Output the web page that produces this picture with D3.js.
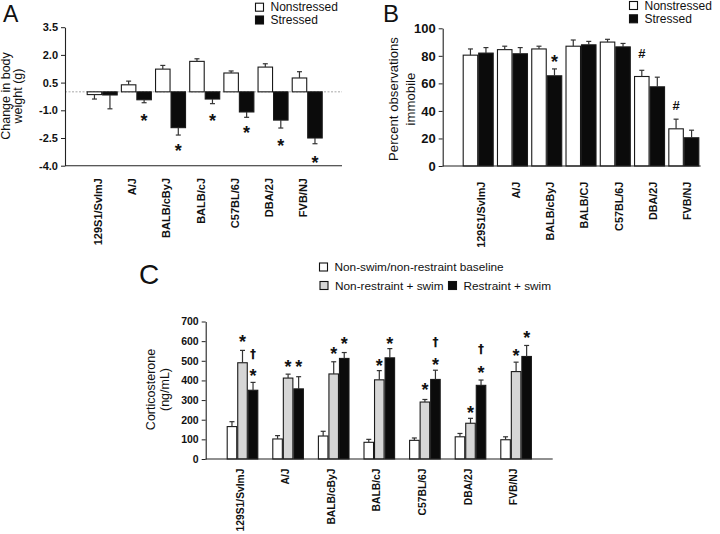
<!DOCTYPE html>
<html><head><meta charset="utf-8">
<script src="https://cdn.jsdelivr.net/npm/d3@7"></script>
<style>
body{margin:0;background:#fff}
svg{display:block}
text{font-family:"Liberation Sans",Arial,Helvetica,sans-serif;fill:#111}
</style>
</head><body>
<svg id="chart" width="720" height="534"></svg>
<script>
// ---------------- DATA ----------------
// Panel A: change in body weight (g)
const categoriesA = ["129S1/SvImJ","A/J","BALB/cByJ","BALB/cJ","C57BL/6J","DBA/2J","FVB/NJ"];
const nonstressedA = [-0.15, 0.38, 1.23, 1.65, 1.02, 1.34, 0.75];
const nonstressedErrA = [0.24, 0.20, 0.20, 0.14, 0.11, 0.18, 0.34];
const stressedA = [-0.17, -0.43, -1.94, -0.39, -1.09, -1.53, -2.50];
const stressedErrA = [0.75, 0.16, 0.40, 0.25, 0.29, 0.43, 0.31];
const yTicksA = [3.5, 2.0, 0.5, -1.0, -2.5, -4.0];
const markersA = [
  {cat:"A/J", s:1, sym:"*", v:-1.31},
  {cat:"BALB/cByJ", s:1, sym:"*", v:-2.92},
  {cat:"BALB/cJ", s:1, sym:"*", v:-1.31},
  {cat:"C57BL/6J", s:1, sym:"*", v:-1.96},
  {cat:"DBA/2J", s:1, sym:"*", v:-2.65},
  {cat:"FVB/NJ", s:1, sym:"*", v:-3.60}
];

// Panel B: percent observations immobile
const categoriesB = ["129S1/SvImJ","A/J","BALB/cByJ","BALB/CJ","C57BL/6J","DBA/2J","FVB/NJ"];
const nonstressedB = [80.5, 84.5, 85, 87, 90, 65, 27];
const nonstressedErrB = [4.5, 2.5, 2, 4.5, 2, 4.5, 7];
const stressedB = [82, 81.5, 65.5, 88, 86.5, 57.5, 20.5];
const stressedErrB = [4, 4.5, 5, 2.5, 2.5, 7, 5.5];
const yTicksB = [0, 20, 40, 60, 80, 100];
const markersB = [
  {cat:"BALB/cByJ", s:1, sym:"*", v:78.8},
  {cat:"DBA/2J", s:0, sym:"#", v:81.5},
  {cat:"FVB/NJ", s:0, sym:"#", v:44.4}
];

// Panel C: corticosterone (ng/mL)
const categoriesC = ["129S1/SvImJ","A/J","BALB/cByJ","BALB/cJ","C57BL/6J","DBA/2J","FVB/NJ"];
const baselineC = [165, 102, 117, 85, 95, 113, 98];
const baselineErrC = [25, 17, 24, 15, 12, 17, 15];
const swimC = [490, 412, 433, 403, 290, 182, 445];
const swimErrC = [63, 20, 62, 47, 13, 25, 48];
const restraintSwimC = [350, 357, 512, 515, 405, 375, 522];
const restraintSwimErrC = [40, 62, 30, 47, 47, 27, 56];
const yTicksC = [0, 100, 200, 300, 400, 500, 600, 700];
const markersC = [
  {cat:"129S1/SvImJ", s:1, sym:"*", v:620},
  {cat:"129S1/SvImJ", s:2, sym:"†", v:530},
  {cat:"129S1/SvImJ", s:2, sym:"*", v:445},
  {cat:"A/J", s:1, sym:"*", v:495},
  {cat:"A/J", s:2, sym:"*", v:495},
  {cat:"BALB/cByJ", s:1, sym:"*", v:558},
  {cat:"BALB/cByJ", s:2, sym:"*", v:611},
  {cat:"BALB/cJ", s:1, sym:"*", v:500},
  {cat:"BALB/cJ", s:2, sym:"*", v:611},
  {cat:"C57BL/6J", s:1, sym:"*", v:377},
  {cat:"C57BL/6J", s:2, sym:"†", v:592},
  {cat:"C57BL/6J", s:2, sym:"*", v:503},
  {cat:"DBA/2J", s:1, sym:"*", v:261},
  {cat:"DBA/2J", s:2, sym:"†", v:560},
  {cat:"DBA/2J", s:2, sym:"*", v:462},
  {cat:"FVB/NJ", s:1, sym:"*", v:551},
  {cat:"FVB/NJ", s:2, sym:"*", v:640}
];

// ---------------- DRAWING ----------------
const svg = d3.select("#chart");
const FILL_WHITE = "#ffffff", FILL_BLACK = "#0b0b0b", FILL_GRAY = "#d6d6d6";

function band(cats, firstStart, step, bw){
  const pi = 1 - bw/step, po = 0.5;
  const r0 = firstStart - po*step;
  const r1 = r0 + step*(cats.length - pi + 2*po);
  return d3.scaleBand().domain(cats).range([r0, r1]).paddingInner(pi).paddingOuter(po);
}

const symDy = {"*":"0.6em", "#":"0.36em", "†":"0.3em"};
const symSize = {"*":18, "#":13, "†":12};
const symFont = {"*":'"Liberation Sans",Arial,sans-serif', "#":'"Liberation Sans",Arial,sans-serif', "†":'"DejaVu Sans",sans-serif'};

function drawPanel(p){
  const g = svg.append("g");
  const x = band(p.cats, p.firstStart, p.step, p.bw);
  const y = d3.scaleLinear().domain(p.yDomain).range(p.yRange);
  const nS = p.series.length;
  const sub = d3.scaleBand().domain(d3.range(nS)).range([0, x.bandwidth()]);

  if (p.zeroLine){
    g.append("line").attr("x1", p.axisX0).attr("x2", p.axisX1)
      .attr("y1", y(0)).attr("y2", y(0))
      .attr("stroke", "#a8a8a8").attr("stroke-width", 1).attr("stroke-dasharray", "2,1.5");
  }

  p.series.forEach((s, si) => {
    const rows = p.cats.map((c, i) => ({c, v: s.vals[i], e: s.errs[i]}));
    const gs = g.append("g");
    gs.selectAll("rect").data(rows).join("rect")
      .attr("x", d => x(d.c) + sub(si) + 0.5)
      .attr("width", sub.bandwidth() - 1)
      .attr("y", d => Math.min(y(d.v), y(0)))
      .attr("height", d => Math.abs(y(d.v) - y(0)))
      .attr("fill", s.fill)
      .attr("stroke", "#1a1a1a").attr("stroke-width", 1.1);
    const eg = gs.selectAll("g.err").data(rows).join("g").attr("class", "err");
    const cx = d => x(d.c) + sub(si) + sub.bandwidth()/2;
    const tip = d => y(d.v >= 0 ? d.v + d.e : d.v - d.e);
    eg.append("line").attr("x1", cx).attr("x2", cx)
      .attr("y1", d => y(d.v)).attr("y2", tip)
      .attr("stroke", "#333").attr("stroke-width", 1.2);
    eg.append("line").attr("x1", d => cx(d) - 2.5).attr("x2", d => cx(d) + 2.5)
      .attr("y1", tip).attr("y2", tip)
      .attr("stroke", "#333").attr("stroke-width", 1.2);
  });

  const ax = g.append("g").attr("transform", `translate(${p.axisX0},0)`)
    .call(d3.axisLeft(y).tickValues(p.yTicks).tickSize(4).tickSizeOuter(0).tickPadding(3)
      .tickFormat(p.tickFormat));
  ax.select(".domain").attr("stroke", "#222").attr("stroke-width", 1.1);
  ax.selectAll(".tick line").attr("stroke", "#222").attr("stroke-width", 1);
  ax.selectAll(".tick text").attr("font-size", p.tickSize).attr("font-weight", "bold")
    .attr("fill", "#111").attr("font-family", '"Liberation Sans",Arial,sans-serif');

  g.append("line").attr("x1", p.axisX0).attr("x2", p.axisX1)
    .attr("y1", y(p.yDomain[0])).attr("y2", y(p.yDomain[0]))
    .attr("stroke", "#222").attr("stroke-width", 1.1);

  g.selectAll("text.cat").data(p.cats).join("text").attr("class", "cat")
    .attr("transform", d => `translate(${x(d) + x.bandwidth()/2 + p.catDx},${p.catTop}) rotate(-90)`)
    .attr("text-anchor", "end").attr("dy", "0.35em")
    .attr("font-size", p.catSize).attr("font-weight", "bold")
    .text(d => d);

  p.yTitle.forEach((t, i) => {
    g.append("text")
      .attr("transform", `translate(${p.yTitleX[i]},${p.yTitleY}) rotate(-90)`)
      .attr("text-anchor", "middle").attr("dy", "0.35em")
      .attr("font-size", p.yTitleSize)
      .text(t);
  });

  g.selectAll("text.mk").data(p.markers).join("text").attr("class", "mk")
    .attr("x", d => x(d.cat) + sub(d.s) + sub.bandwidth()/2)
    .attr("y", d => y(d.v))
    .attr("dy", d => symDy[d.sym])
    .attr("text-anchor", "middle")
    .attr("font-weight", "bold")
    .attr("font-size", d => symSize[d.sym])
    .style("font-family", d => symFont[d.sym])
    .style("fill", "#111")
    .text(d => d.sym);

  g.append("text").attr("x", p.letter.x).attr("y", p.letter.y)
    .attr("font-size", p.letter.size).text(p.letter.t);

  p.legend.forEach(l => {
    g.append("rect").attr("x", l.x).attr("y", l.y - 4).attr("width", 8).attr("height", 8)
      .attr("fill", l.fill).attr("stroke", "#111").attr("stroke-width", 1.1);
    g.append("text").attr("x", l.x + 15).attr("y", l.y).attr("dy", "0.35em")
      .attr("font-size", l.size).text(l.t);
  });
}

drawPanel({
  cats: categoriesA, firstStart: 86.7, step: 34.17, bw: 31,
  yDomain: [-4, 3.5], yRange: [165.7, 27.2], yTicks: yTicksA,
  tickFormat: d => d.toFixed(1), tickSize: 11,
  axisX0: 65, axisX1: 342, zeroLine: true,
  series: [
    {vals: nonstressedA, errs: nonstressedErrA, fill: FILL_WHITE},
    {vals: stressedA, errs: stressedErrA, fill: FILL_BLACK}
  ],
  catDx: -4, catTop: 178, catSize: 11,
  yTitle: ["Change in body", "weight (g)"], yTitleX: [6, 17.5], yTitleY: 96, yTitleSize: 12.5,
  markers: markersA,
  letter: {t: "A", x: 3, y: 21.7, size: 23},
  legend: [
    {x: 255.5, y: 7.2, fill: FILL_WHITE, t: "Nonstressed", size: 12},
    {x: 255.5, y: 20, fill: FILL_BLACK, t: "Stressed", size: 12}
  ]
});

drawPanel({
  cats: categoriesB, firstStart: 462.7, step: 34.27, bw: 31,
  yDomain: [0, 100], yRange: [166, 28.3], yTicks: yTicksB,
  tickFormat: d => String(d), tickSize: 13,
  axisX0: 442.7, axisX1: 700.7, zeroLine: false,
  series: [
    {vals: nonstressedB, errs: nonstressedErrB, fill: FILL_WHITE},
    {vals: stressedB, errs: stressedErrB, fill: FILL_BLACK}
  ],
  catDx: 3.5, catTop: 181.7, catSize: 10.8,
  yTitle: ["Percent observations", "immobile"], yTitleX: [393, 410], yTitleY: 99, yTitleSize: 13.2,
  markers: markersB,
  letter: {t: "B", x: 383, y: 21.7, size: 24},
  legend: [
    {x: 629.5, y: 5.5, fill: FILL_WHITE, t: "Nonstressed", size: 12},
    {x: 629.5, y: 18.8, fill: FILL_BLACK, t: "Stressed", size: 12}
  ]
});

drawPanel({
  cats: categoriesC, firstStart: 226.7, step: 45.6, bw: 31.6,
  yDomain: [0, 700], yRange: [459, 321.5], yTicks: yTicksC,
  tickFormat: d => String(d), tickSize: 10.5,
  axisX0: 205.7, axisX1: 552.7, zeroLine: false,
  series: [
    {vals: baselineC, errs: baselineErrC, fill: FILL_WHITE},
    {vals: swimC, errs: swimErrC, fill: FILL_GRAY},
    {vals: restraintSwimC, errs: restraintSwimErrC, fill: FILL_BLACK}
  ],
  catDx: -2.5, catTop: 468.5, catSize: 10.3,
  yTitle: ["Corticosterone", "(ng/mL)"], yTitleX: [150.7, 165], yTitleY: 389.5, yTitleSize: 12.5,
  markers: markersC,
  letter: {t: "C", x: 139, y: 284, size: 28},
  legend: [
    {x: 319.5, y: 267, fill: FILL_WHITE, t: "Non-swim/non-restraint baseline", size: 11.8},
    {x: 320, y: 285.5, fill: FILL_GRAY, t: "Non-restraint + swim", size: 11.8},
    {x: 448.5, y: 285.5, fill: FILL_BLACK, t: "Restraint + swim", size: 11.8}
  ]
});
</script>
</body></html>
